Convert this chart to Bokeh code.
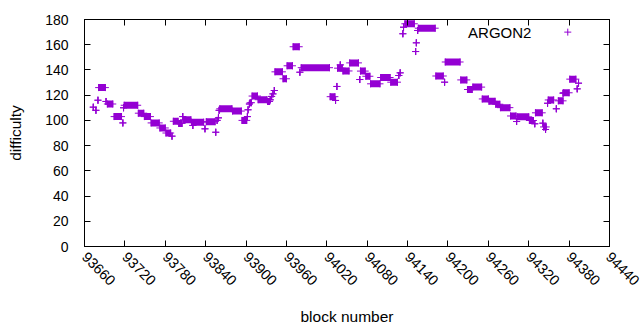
from math import pi
from bokeh.plotting import figure
from bokeh.models import Range1d, FixedTicker, LinearAxis, Label
from bokeh.embed import file_html
from bokeh.resources import INLINE

# Runs of consecutive blocks sharing one difficulty value (start block, end block, difficulty)
run_start = [93673, 93677, 93680, 93681, 93692, 93694, 93704, 93717, 93718, 93719,
             93740, 93749, 93759, 93772, 93781, 93790, 93792, 93800, 93806, 93807,
             93819, 93821, 93839, 93841, 93855, 93857, 93859, 93860, 93861, 93880,
             93894, 93902, 93903, 93905, 93906, 93909, 93918, 93932, 93936, 93938,
             93940, 93942, 93943, 93955, 93961, 93970, 93980, 93982, 94025, 94033,
             94035, 94036, 94040, 94044, 94054, 94069, 94070, 94078, 94085, 94100,
             94115, 94127, 94129, 94133, 94134, 94136, 94152, 94153, 94155, 94156,
             94182, 94195, 94196, 94219, 94229, 94237, 94251, 94261, 94271, 94278,
             94293, 94302, 94303, 94321, 94329, 94330, 94341, 94342, 94345, 94348,
             94349, 94361, 94364, 94371, 94372, 94381, 94392, 94394]
run_end = [93673, 93677, 93680, 93691, 93692, 93702, 93715, 93717, 93718, 93739,
           93748, 93758, 93771, 93780, 93788, 93790, 93799, 93805, 93806, 93818,
           93837, 93821, 93839, 93854, 93855, 93857, 93859, 93860, 93879, 93893,
           93901, 93902, 93903, 93905, 93908, 93917, 93931, 93935, 93936, 93938,
           93940, 93942, 93954, 93960, 93969, 93979, 93980, 94024, 94032, 94033,
           94035, 94043, 94040, 94053, 94067, 94069, 94077, 94084, 94099, 94114,
           94125, 94127, 94129, 94133, 94134, 94150, 94152, 94153, 94155, 94181,
           94193, 94195, 94218, 94228, 94236, 94250, 94260, 94270, 94277, 94292,
           94301, 94302, 94320, 94327, 94329, 94340, 94341, 94346, 94345, 94348,
           94357, 94361, 94371, 94371, 94380, 94390, 94392, 94394]
difficulty = [110.5, 108.0, 116.0, 126.0, 115.0, 113.0, 103.0, 98.0, 110.0, 112.0,
              105.7, 103.0, 98.0, 94.0, 90.0, 87.5, 99.3, 97.6, 103.0, 100.5,
              98.6, 96.0, 93.3, 99.0, 90.6, 100.0, 102.0, 108.0, 109.2, 107.4,
              100.0, 103.0, 108.4, 113.0, 114.0, 119.3, 116.4, 115.0, 116.3, 119.0,
              121.0, 123.7, 138.5, 133.0, 143.3, 158.4, 138.2, 141.8, 118.8, 115.8,
              126.9, 141.4, 144.0, 139.2, 145.6, 132.4, 139.1, 135.0, 129.0, 134.0,
              130.3, 135.6, 137.7, 168.7, 173.9, 176.6, 154.6, 161.5, 171.3, 173.1,
              135.2, 130.3, 146.3, 132.1, 124.5, 126.4, 117.0, 115.1, 112.8, 110.1,
              103.5, 99.1, 102.8, 99.9, 97.3, 106.0, 97.8, 94.8, 92.8, 113.6,
              116.2, 109.2, 115.5, 121.6, 121.9, 132.7, 125.0, 129.5]

x_ticks = [93660, 93720, 93780, 93840, 93900, 93960, 94020, 94080, 94140, 94200,
           94260, 94320, 94380, 94440]
y_ticks = [0, 20, 40, 60, 80, 100, 120, 140, 160, 180]
series_name = "ARGON2"
x_title = "block number"
y_title = "difficulty"

COLOR = "#9400D3"
FONT = "Liberation Sans"

p = figure(width=640, height=330, output_backend="svg", toolbar_location=None,
           x_range=Range1d(93660, 94440), y_range=Range1d(0, 180),
           min_border_left=84, min_border_right=31, min_border_top=19,
           min_border_bottom=84)
p.grid.visible = False
p.outline_line_color = "black"
p.outline_line_width = 1
p.background_fill_color = "white"
p.border_fill_color = "white"

# runs: filled band between first and last point of each run
centers = [(s + e) / 2 for s, e in zip(run_start, run_end)]
widths = [e - s + 1.5 for s, e in zip(run_start, run_end)]
p.rect(x=centers, y=difficulty, width=widths, height=7, height_units="screen",
       fill_color=COLOR, line_color=None)
# "+" markers at both ends of each run
cross_x = run_start + run_end
cross_y = difficulty + difficulty
p.scatter(x=cross_x, y=cross_y, marker="cross", size=7, line_color=COLOR, line_width=1)

for ax in (p.xaxis[0], p.yaxis[0]):
    ax.major_tick_in = 6
    ax.major_tick_out = 0
    ax.minor_tick_in = 0
    ax.minor_tick_out = 0
    ax.axis_line_color = "black"
    ax.major_label_text_font = FONT
    ax.major_label_text_font_size = "14px"
    ax.major_label_text_color = "black"
    ax.axis_label_text_font = FONT
    ax.axis_label_text_font_size = "15.5px"
    ax.axis_label_text_font_style = "normal"
    ax.axis_label_text_color = "black"

p.xaxis.ticker = FixedTicker(ticks=x_ticks)
p.yaxis.ticker = FixedTicker(ticks=y_ticks)
p.xaxis.major_label_orientation = -pi / 4
p.xaxis.major_label_text_font_size = "14.5px"
p.xaxis.major_label_standoff = 8
p.xaxis.axis_label = x_title
p.xaxis.axis_label_standoff = 15
p.yaxis.major_label_standoff = 16
p.yaxis.axis_label = y_title
p.yaxis.axis_label_standoff = 18

# mirrored ticks on top and right
top = LinearAxis(ticker=FixedTicker(ticks=x_ticks), major_tick_in=6, major_tick_out=0,
                 minor_tick_in=0, minor_tick_out=0, major_label_text_font_size="0px",
                 major_label_text_color=None, major_label_standoff=0)
right = LinearAxis(ticker=FixedTicker(ticks=y_ticks), major_tick_in=6, major_tick_out=0,
                   minor_tick_in=0, minor_tick_out=0, major_label_text_font_size="0px",
                   major_label_text_color=None, major_label_standoff=0)
p.add_layout(top, "above")
p.add_layout(right, "right")

# key: title on the left, sample marker on the right (gnuplot style)
key_x_text, key_x_sample, key_y = 94324, 94378, 170.0
p.add_layout(Label(x=key_x_text, y=key_y, text=series_name, text_align="right",
                   text_baseline="middle", text_font=FONT, text_font_size="15px",
                   text_color="black"))
p.scatter(x=[key_x_sample], y=[key_y], marker="cross", size=7, line_color=COLOR,
          line_width=1)

open("out.html", "w").write(file_html(p, INLINE))
